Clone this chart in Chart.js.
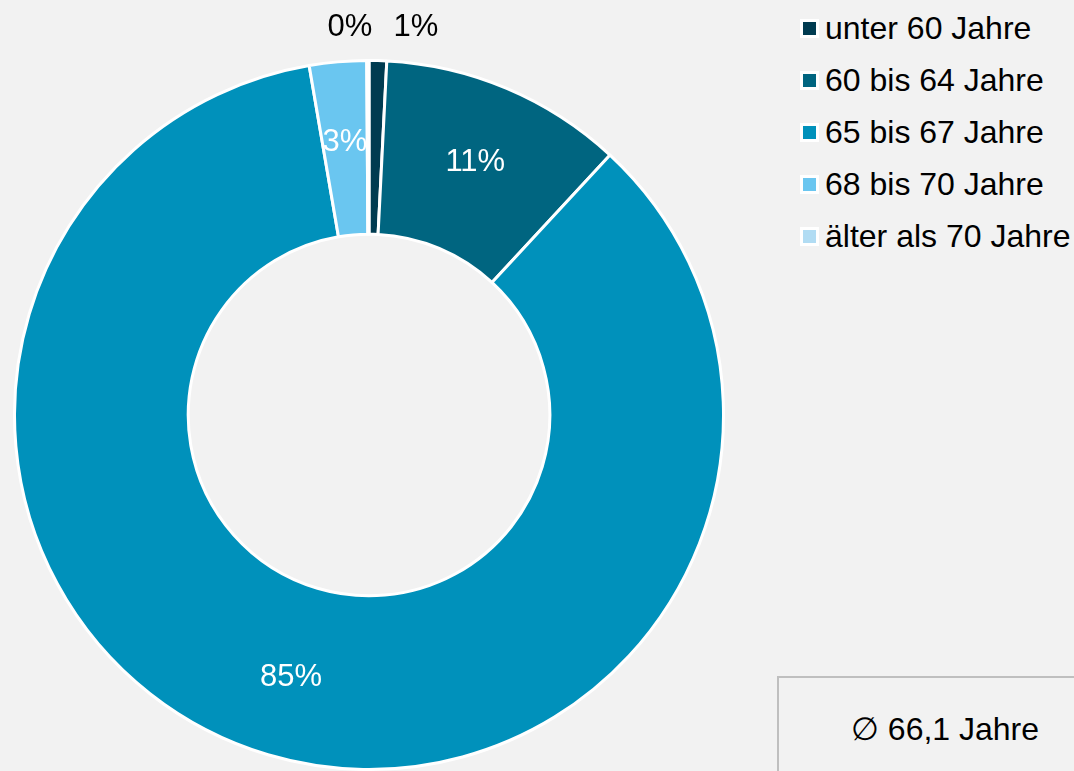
<!DOCTYPE html>
<html lang="de">
<head>
<meta charset="utf-8">
<title>Renteneintrittsalter</title>
<script src="https://cdn.jsdelivr.net/npm/chart.js@4.4.0/dist/chart.umd.min.js"></script>
<style>
    html, body { margin: 0; padding: 0; background: #f2f2f2; overflow: hidden; }
    body { width: 1074px; height: 771px; position: relative; font-family: "Liberation Sans", Arial, sans-serif; }
    #wrap { position: absolute; left: 0; top: 0; width: 738px; height: 771px; }
    #legende { position: absolute; left: 800px; top: 2px; }
    .item { height: 52px; display: flex; align-items: center; font-size: 32px; color: #000; white-space: nowrap; }
    .box { width: 13px; height: 13px; border: 3px solid #fff; margin-right: 6px; flex: none; }
    #schnitt { position: absolute; left: 777px; top: 676px; width: 336px; height: 130px; border: 2px solid #bfbfbf; box-sizing: border-box; font-size: 32px; }
    #schnitt div { position: absolute; left: 0; right: 0; top: 32px; line-height: 38px; text-align: center; }
</style>
</head>
<body>
<div id="wrap"><canvas id="altersgruppen"></canvas></div>
<div id="legende"></div>
<div id="schnitt"><div>&#8709; 66,1 Jahre</div></div>
<script>
const gruppen = ['unter 60 Jahre', '60 bis 64 Jahre', '65 bis 67 Jahre', '68 bis 70 Jahre', 'älter als 70 Jahre'];
const anteile = [0.8, 11.1, 85.4, 2.6, 0.1];
const farben = ['#003b50', '#006580', '#0091bb', '#6ac6f0', '#b1dcf3'];

// Prozentwerte: grosse Segmente innen, kleine oben ausserhalb
const prozentLabels = {
    id: 'prozentLabels',
    afterDatasetsDraw(chart) {
        const ctx = chart.ctx;
        const meta = chart.getDatasetMeta(0);
        ctx.save();
        ctx.font = '31px "Liberation Sans", Arial, sans-serif';
        ctx.textAlign = 'center';
        ctx.textBaseline = 'middle';
        const klein = [];
        meta.data.forEach((arc, i) => {
            const p = arc.getProps(['x', 'y', 'startAngle', 'endAngle', 'innerRadius', 'outerRadius'], true);
            const mid = (p.startAngle + p.endAngle) / 2;
            const text = Math.round(anteile[i]) + '%';
            if (anteile[i] < 2) {
                klein.push({ p: p, text: text, mx: p.x + Math.cos(mid) * p.outerRadius });
                return;
            }
            const r = (p.innerRadius + p.outerRadius) / 2 + 6;
            ctx.fillStyle = '#ffffff';
            ctx.fillText(text, p.x + Math.cos(mid) * r, p.y + Math.sin(mid) * r);
        });
        klein.sort((a, b) => a.mx - b.mx);
        if (klein.length) {
            const avg = klein.reduce((s, k) => s + k.mx, 0) / klein.length + 10;
            klein.forEach((k, j) => {
                ctx.fillStyle = '#000000';
                ctx.fillText(k.text, avg + (j - (klein.length - 1) / 2) * 66, k.p.y - k.p.outerRadius - 33);
            });
        }
        ctx.restore();
    }
};

const ctx1 = document.getElementById('altersgruppen').getContext('2d');
const altersgruppen = new Chart(ctx1, {
    type: 'doughnut',
    data: {
        labels: gruppen,
        datasets: [{
            label: 'Anteil (%)',
            data: anteile,
            backgroundColor: farben,
            borderColor: '#ffffff',
            borderWidth: 3,
            hoverOffset: 0
        }]
    },
    options: {
        responsive: true,
        maintainAspectRatio: false,
        animation: false,
        cutout: '51%',
        layout: { padding: { top: 59 } },
        plugins: {
            legend: { display: false }
        }
    },
    plugins: [prozentLabels]
});

// Legende rechts
const legende = document.getElementById('legende');
gruppen.forEach((g, i) => {
    const row = document.createElement('div');
    row.className = 'item';
    const box = document.createElement('span');
    box.className = 'box';
    box.style.background = farben[i];
    row.appendChild(box);
    row.appendChild(document.createTextNode(g));
    legende.appendChild(row);
});
</script>
</body>
</html>
